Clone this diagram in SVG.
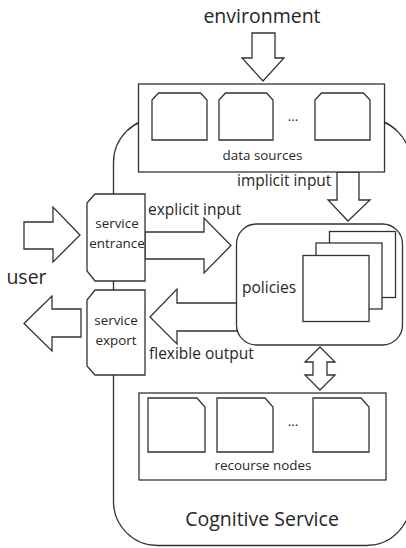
<svg xmlns="http://www.w3.org/2000/svg" width="406" height="548" viewBox="0 0 406 548">
  <style>
    .ln { fill: #fff; stroke: #333; stroke-width: 1.3; stroke-linejoin: miter; }
    .open { fill: none; stroke: #333; stroke-width: 1.3; }
    .t { font-family: "Open Sans", "Noto Sans", sans-serif; fill: #262626; }
    .big { font-size: 19.5px; }
    .mid { font-size: 15.5px; }
    .sm { font-size: 13.4px; }
  </style>
  <rect width="406" height="548" fill="#fff"/>

  <!-- Cognitive Service boundary -->
  <g id="cognitive-service">
    <rect class="open" x="113.5" y="118.5" width="297" height="427" rx="44" ry="44"/>
    <text class="t big" x="262" y="526" text-anchor="middle">Cognitive Service</text>
  </g>

  <!-- connectors: block arrows -->
  <g id="connectors">
    <!-- environment -> data sources -->
    <polygon class="ln" points="252,33 275,33 275,58 284,58 263,81 242,58 252,58"/>
    <!-- data sources -> policies (implicit input) -->
    <polygon class="ln" points="337,172 359,172 359,200 370,200 348,221 328,200 337,200"/>
    <!-- user -> service entrance -->
    <polygon class="ln" points="24,222 53,222 53,207 80,235 53,262 53,249 24,249"/>
    <!-- service entrance -> policies (explicit input) -->
    <polygon class="ln" points="145,232 204,232 204,218 231,245.5 204,273 204,259 145,259"/>
    <!-- policies -> service export (flexible output) -->
    <polygon class="ln" points="237,303 177,303 177,289 150,317 177,344 177,331 237,331"/>
    <!-- service export -> user -->
    <polygon class="ln" points="81,309 52,309 52,296 24,323.5 52,351 52,337 81,337"/>
    <!-- policies <-> recourse nodes -->
    <polygon class="ln" points="320,347 335,362 327,362 327,375 335,375 320,390 305,375 313,375 313,362 305,362"/>
    <text class="t mid" x="237" y="186">implicit input</text>
    <text class="t mid" x="148" y="215">explicit input</text>
    <text class="t mid" x="149" y="359">flexible output</text>
  </g>

  <g id="environment">
    <text class="t big" x="262" y="23" text-anchor="middle">environment</text>
  </g>

  <g id="user">
    <text class="t big" x="26.5" y="284" text-anchor="middle">user</text>
  </g>

  <!-- data sources -->
  <g id="data-sources">
    <rect class="ln" x="138.5" y="84" width="246" height="88"/>
    <polygon class="ln" points="152,140 152,100 158.5,93 200.5,93 207,100 207,140"/>
    <polygon class="ln" points="219,140 219,100 225.5,93 266.5,93 273,100 273,140"/>
    <polygon class="ln" points="315,140 315,100 321.5,93 363.5,93 370,100 370,140"/>
    <text class="t sm" x="293" y="121" text-anchor="middle">...</text>
    <text class="t sm" x="262.5" y="160" text-anchor="middle">data sources</text>
  </g>

  <!-- service entrance -->
  <g id="service-entrance">
    <polygon class="ln" points="95,194 145,194 145,281 95,281 87,271 87,203"/>
    <text class="t sm" x="117" y="228" text-anchor="middle">service</text>
    <text class="t sm" x="117" y="248" text-anchor="middle">entrance</text>
  </g>

  <!-- service export -->
  <g id="service-export">
    <polygon class="ln" points="95,290 145,290 145,375 95,375 87,366 87,300"/>
    <text class="t sm" x="116" y="325" text-anchor="middle">service</text>
    <text class="t sm" x="116" y="345" text-anchor="middle">export</text>
  </g>

  <!-- policies -->
  <g id="policies">
    <rect class="ln" x="236.5" y="224" width="166" height="121" rx="20" ry="20"/>
    <rect class="ln" x="329.5" y="231.5" width="66" height="66"/>
    <rect class="ln" x="316" y="243" width="66" height="66"/>
    <rect class="ln" x="303" y="255.5" width="66" height="66"/>
    <text class="t mid" x="242" y="293">policies</text>
  </g>

  <!-- recourse nodes -->
  <g id="recourse-nodes">
    <rect class="ln" x="139" y="393" width="247" height="87"/>
    <polygon class="ln" points="148,398 197,398 205,407 205,452 148,452"/>
    <polygon class="ln" points="217,398 265,398 273,407 273,452 217,452"/>
    <polygon class="ln" points="313,398 361,398 369,407 369,452 313,452"/>
    <text class="t sm" x="293" y="426" text-anchor="middle">...</text>
    <text class="t sm" x="263" y="470" text-anchor="middle">recourse nodes</text>
  </g>
</svg>
